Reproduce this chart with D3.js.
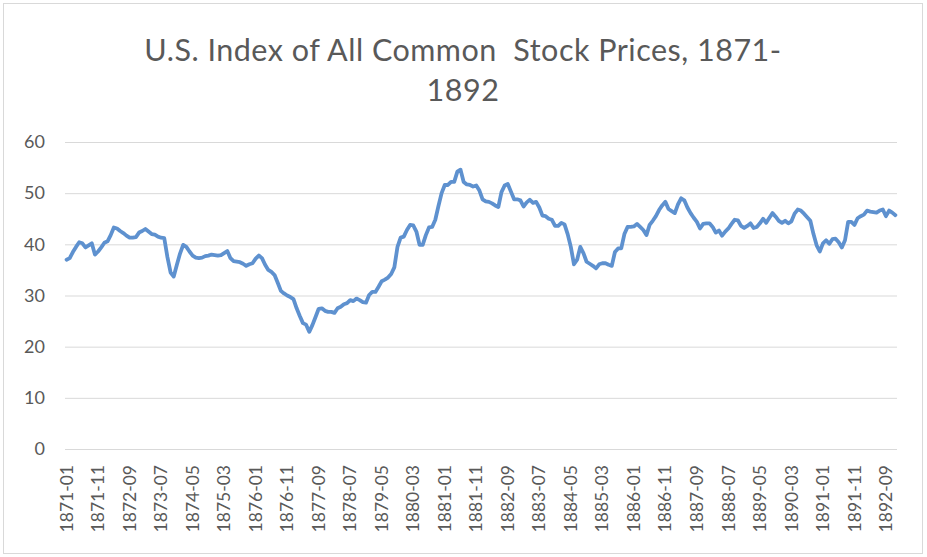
<!DOCTYPE html>
<html>
<head>
<meta charset="utf-8">
<script src="https://cdn.jsdelivr.net/npm/d3@7"></script>
<style>
    body { margin: 0; background: #ffffff; }
    #chart { width: 927px; height: 557px; }
</style>
</head>
<body>
<div id="chart"></div>
<script>
// monthly index, Jan 1871 .. Dec 1892
let years = [1871, 1872, 1873, 1874, 1875, 1876, 1877, 1878, 1879, 1880, 1881,
    1882, 1883, 1884, 1885, 1886, 1887, 1888, 1889, 1890, 1891, 1892];
let monthNames = ["01", "02", "03", "04", "05", "06", "07", "08", "09", "10", "11", "12"];

let indexValues = [
    37.0, 37.3, 38.5, 39.5, 40.4, 40.2, 39.4, 39.8, 40.2, 38.0, 38.6, 39.4,   // 1871
    40.3, 40.6, 41.8, 43.3, 43.1, 42.6, 42.2, 41.7, 41.3, 41.3, 41.4, 42.3,   // 1872
    42.6, 43.0, 42.5, 42.0, 41.9, 41.5, 41.3, 41.2, 37.5, 34.5, 33.7, 36.0,   // 1873
    38.2, 39.9, 39.5, 38.6, 37.8, 37.4, 37.3, 37.4, 37.7, 37.8, 38.0, 37.9,   // 1874
    37.8, 37.9, 38.3, 38.7, 37.3, 36.7, 36.6, 36.5, 36.2, 35.8, 36.1, 36.3,   // 1875
    37.2, 37.8, 37.3, 36.0, 35.0, 34.6, 34.0, 32.5, 30.9, 30.4, 30.0, 29.7,   // 1876
    29.3, 27.5, 26.0, 24.6, 24.3, 22.9, 24.2, 25.8, 27.4, 27.5, 27.0, 26.8,   // 1877
    26.8, 26.6, 27.5, 27.8, 28.3, 28.5, 29.1, 28.9, 29.4, 29.1, 28.7, 28.6,   // 1878
    30.1, 30.7, 30.7, 31.7, 32.8, 33.1, 33.5, 34.2, 35.5, 39.5, 41.3, 41.5,   // 1879
    42.8, 43.8, 43.7, 42.5, 39.9, 39.9, 41.8, 43.3, 43.4, 44.8, 47.5, 50.0,   // 1880
    51.6, 51.6, 52.2, 52.2, 54.2, 54.6, 52.2, 51.7, 51.6, 51.3, 51.5, 50.5,   // 1881
    48.8, 48.4, 48.3, 48.0, 47.6, 47.3, 50.2, 51.5, 51.8, 50.3, 48.8, 48.8,   // 1882
    48.6, 47.4, 48.2, 48.7, 48.1, 48.3, 47.2, 45.6, 45.5, 45.0, 44.8, 43.6,   // 1883
    43.6, 44.2, 43.9, 42.0, 39.5, 36.1, 37.0, 39.5, 38.3, 36.6, 36.2, 35.8,   // 1884
    35.3, 36.1, 36.3, 36.3, 36.0, 35.8, 38.5, 39.2, 39.2, 42.0, 43.4, 43.4,   // 1885
    43.5, 44.0, 43.4, 42.8, 41.8, 43.8, 44.6, 45.5, 46.7, 47.6, 48.3, 46.9,   // 1886
    46.5, 46.1, 47.8, 49.0, 48.6, 47.2, 46.1, 45.2, 44.4, 43.1, 44.0, 44.1,   // 1887
    44.1, 43.4, 42.3, 42.7, 41.7, 42.5, 43.1, 44.0, 44.8, 44.7, 43.6, 43.2,   // 1888
    43.6, 44.1, 43.2, 43.4, 44.1, 45.0, 44.2, 45.2, 46.1, 45.4, 44.6, 44.2,   // 1889
    44.6, 44.1, 44.5, 46.0, 46.8, 46.6, 46.0, 45.3, 44.6, 42.0, 39.8, 38.6,   // 1890
    40.2, 40.8, 40.1, 41.0, 41.1, 40.4, 39.4, 40.8, 44.4, 44.4, 43.8, 45.1,   // 1891
    45.5, 45.8, 46.6, 46.4, 46.3, 46.2, 46.6, 46.8, 45.5, 46.6, 46.2, 45.7    // 1892
];

let tickLabels = ["1871-01", "1871-11", "1872-09", "1873-07", "1874-05", "1875-03",
    "1876-01", "1876-11", "1877-09", "1878-07", "1879-05", "1880-03", "1881-01",
    "1881-11", "1882-09", "1883-07", "1884-05", "1885-03", "1886-01", "1886-11",
    "1887-09", "1888-07", "1889-05", "1890-03", "1891-01", "1891-11", "1892-09"];

let yTicks = [0, 10, 20, 30, 40, 50, 60];

let titleLines = ["U.S. Index of All Common  Stock Prices, 1871-", "1892"];

// build the category list
let months = [];
years.forEach(y => {
    monthNames.forEach(m => months.push(y + "-" + m));
});
let series = months.map((m, i) => ({month: m, value: indexValues[i]}));

let W = 927, H = 557;
let margin = {top: 142, right: 30, bottom: 108, left: 65};
let width = W - margin.left - margin.right;
let height = H - margin.top - margin.bottom;
let font = "Lato, 'Open Sans', sans-serif";

let svg = d3.select("#chart").append("svg")
    .attr("width", W)
    .attr("height", H);

// chart area border
svg.append("rect")
    .attr("x", 3.5)
    .attr("y", 3.5)
    .attr("width", W - 8)
    .attr("height", H - 7)
    .attr("fill", "#ffffff")
    .attr("stroke", "#d9d9d9")
    .attr("stroke-width", 1);

// title
svg.append("text")
    .attr("x", 463)
    .attr("y", 61)
    .attr("text-anchor", "middle")
    .attr("font-family", font)
    .attr("font-size", 30.5)
    .attr("letter-spacing", 0.5)
    .attr("fill", "#595959")
    .style("white-space", "pre")
    .selectAll("tspan")
    .data(titleLines)
    .enter()
    .append("tspan")
    .attr("x", 463)
    .attr("dy", (d, i) => i === 0 ? 0 : 40)
    .text(d => d);

let g = svg.append("g")
    .attr("transform", "translate(" + margin.left + "," + margin.top + ")");

let x = d3.scaleBand()
    .domain(months)
    .range([0, width]);

let y = d3.scaleLinear()
    .domain([0, 60])
    .range([height, 0]);

// gridlines
let grid = g.append("g")
    .attr("class", "grid")
    .call(d3.axisLeft(y).tickValues(yTicks).tickSize(-width).tickFormat(""));
grid.select(".domain").remove();
grid.selectAll("line")
    .attr("stroke", "#d9d9d9")
    .attr("stroke-width", 1);

// y axis labels
let yAxis = g.append("g")
    .call(d3.axisLeft(y).tickValues(yTicks).tickSize(0).tickPadding(20));
yAxis.select(".domain").remove();
yAxis.selectAll("text")
    .attr("font-family", font)
    .attr("font-size", 18)
    .attr("fill", "#595959");

// x axis labels
let xAxis = g.append("g")
    .attr("transform", "translate(0," + height + ")")
    .call(d3.axisBottom(x).tickValues(tickLabels).tickSize(0));
xAxis.select(".domain").remove();
xAxis.selectAll("text")
    .attr("font-family", font)
    .attr("font-size", 17.5)
    .attr("fill", "#595959")
    .attr("text-anchor", "end")
    .attr("transform", "rotate(-90)")
    .attr("x", -16)
    .attr("y", 0)
    .attr("dy", "0.35em");

// the line
let line = d3.line()
    .x(d => x(d.month) + x.bandwidth() / 2)
    .y(d => y(d.value));

g.append("path")
    .datum(series)
    .attr("fill", "none")
    .attr("stroke", "#5e91cf")
    .attr("stroke-width", 3.8)
    .attr("stroke-linejoin", "round")
    .attr("stroke-linecap", "round")
    .attr("d", line);
</script>
</body>
</html>
